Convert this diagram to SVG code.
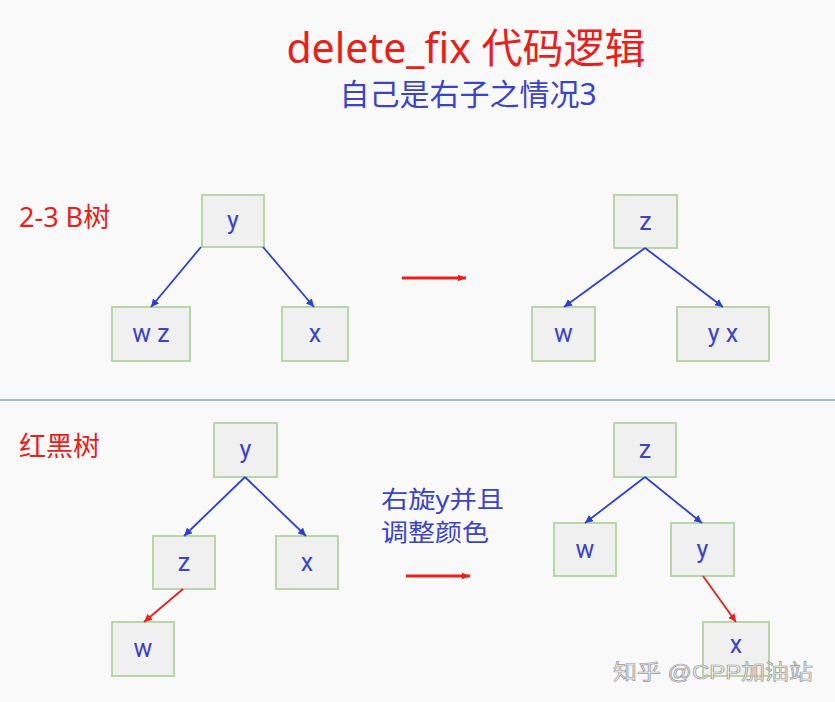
<svg xmlns="http://www.w3.org/2000/svg" width="835" height="702" viewBox="0 0 835 702">
<style>
.bg{fill:#f9f9f9}
.node rect{fill:#f0f0f0;stroke:#b9d6a6;stroke-width:2}
.node text{font-family:"Roboto","Noto Sans","Liberation Sans",sans-serif;font-size:25px;fill:#3b44c8;text-anchor:middle}
.red{font-family:"Noto Sans","Noto Sans CJK SC",sans-serif;fill:#e8201c}
.blue{font-family:"Noto Sans","Noto Sans CJK SC",sans-serif;fill:#3b44c8}
.eb{stroke:#2f40d0;stroke-width:1.8;fill:none;marker-end:url(#ab)}
.er{stroke:#e8201c;stroke-width:1.8;fill:none;marker-end:url(#ar)}
.big{stroke:#e8201c;stroke-width:3;fill:none;marker-end:url(#ar2)}
</style>
<defs>
<marker id="ab" viewBox="0 0 10 10" refX="10" refY="5" markerWidth="8" markerHeight="8" markerUnits="userSpaceOnUse" orient="auto"><path d="M0,0 L10,5 L0,10 z" fill="#2f40d0"/></marker>
<marker id="ar" viewBox="0 0 10 10" refX="10" refY="5" markerWidth="8" markerHeight="8" markerUnits="userSpaceOnUse" orient="auto"><path d="M0,0 L10,5 L0,10 z" fill="#e8201c"/></marker>
<marker id="ar2" viewBox="0 0 10 10" refX="10" refY="5" markerWidth="8" markerHeight="8" markerUnits="userSpaceOnUse" orient="auto"><path d="M0,1 L10,5 L0,9 z" fill="#e8201c"/></marker>
</defs>
<rect class="bg" x="0" y="0" width="835" height="702"/>
<g id="titles">
<text class="red" x="466" y="63" font-size="41" text-anchor="middle">delete_fix 代码逻辑</text>
<text class="blue" x="468" y="105" font-size="30" text-anchor="middle">自己是右子之情况3</text>
<text class="red" x="19" y="227" font-size="27">2-3 B树</text>
<text class="red" x="19" y="456" font-size="27">红黑树</text>
<text class="blue" x="381" y="508" font-size="24" textLength="123" lengthAdjust="spacingAndGlyphs">右旋y并且</text>
<text class="blue" x="381" y="541" font-size="24" textLength="108" lengthAdjust="spacingAndGlyphs">调整颜色</text>
</g>
<line id="separator" x1="0" y1="400" x2="835" y2="400" stroke="#7aa8d8" stroke-width="1.5"/>
<g id="t1-y" class="node"><rect x="202" y="195" width="62" height="52"/><text x="233" y="229">y</text></g>
<g id="t1-wz" class="node"><rect x="112" y="307" width="78" height="54"/><text x="151" y="342">w z</text></g>
<g id="t1-x" class="node"><rect x="282" y="307" width="66" height="54"/><text x="315" y="342">x</text></g>
<g id="t2-z" class="node"><rect x="614" y="195" width="63" height="53"/><text x="645.5" y="230">z</text></g>
<g id="t2-w" class="node"><rect x="532" y="307" width="63" height="54"/><text x="563.5" y="342">w</text></g>
<g id="t2-yx" class="node"><rect x="677" y="307" width="92" height="54"/><text x="723" y="342">y x</text></g>
<g id="t3-y" class="node"><rect x="214" y="423" width="63" height="54"/><text x="245.5" y="458">y</text></g>
<g id="t3-z" class="node"><rect x="153" y="536" width="62" height="53"/><text x="184" y="571">z</text></g>
<g id="t3-x" class="node"><rect x="276" y="536" width="62" height="53"/><text x="307" y="571">x</text></g>
<g id="t3-w" class="node"><rect x="112" y="622" width="62" height="54"/><text x="143" y="657">w</text></g>
<g id="t4-z" class="node"><rect x="614" y="423" width="62" height="54"/><text x="645" y="458">z</text></g>
<g id="t4-w" class="node"><rect x="554" y="523" width="62" height="53"/><text x="585" y="558">w</text></g>
<g id="t4-y" class="node"><rect x="671" y="523" width="63" height="53"/><text x="702.5" y="558">y</text></g>
<g id="t4-x" class="node"><rect x="703" y="622" width="66" height="54"/><text x="736" y="653">x</text></g>
<g id="connectors">
<line class="eb" x1="201" y1="247" x2="151" y2="307"/>
<line class="eb" x1="263" y1="247" x2="314" y2="307"/>
<line class="eb" x1="645" y1="248" x2="564" y2="307"/>
<line class="eb" x1="645" y1="248" x2="723" y2="307"/>
<line class="eb" x1="245" y1="477" x2="184" y2="536"/>
<line class="eb" x1="245" y1="477" x2="306" y2="536"/>
<line class="er" x1="183" y1="589" x2="144" y2="622"/>
<line class="eb" x1="645" y1="477" x2="585" y2="523"/>
<line class="eb" x1="645" y1="477" x2="702" y2="523"/>
<line class="er" x1="703" y1="576" x2="736" y2="622"/>
<line class="big" x1="402" y1="278" x2="466" y2="278"/>
<line class="big" x1="406" y1="576" x2="470" y2="576"/>
</g>
<text id="watermark" x="613" y="679" font-family="Liberation Sans, Noto Sans CJK SC, sans-serif" font-size="21" textLength="200" lengthAdjust="spacingAndGlyphs" fill="#f2f2f2" stroke="#9a9a9a" stroke-width="0.7" fill-opacity="0.85">知乎 @CPP加油站</text>
</svg>
